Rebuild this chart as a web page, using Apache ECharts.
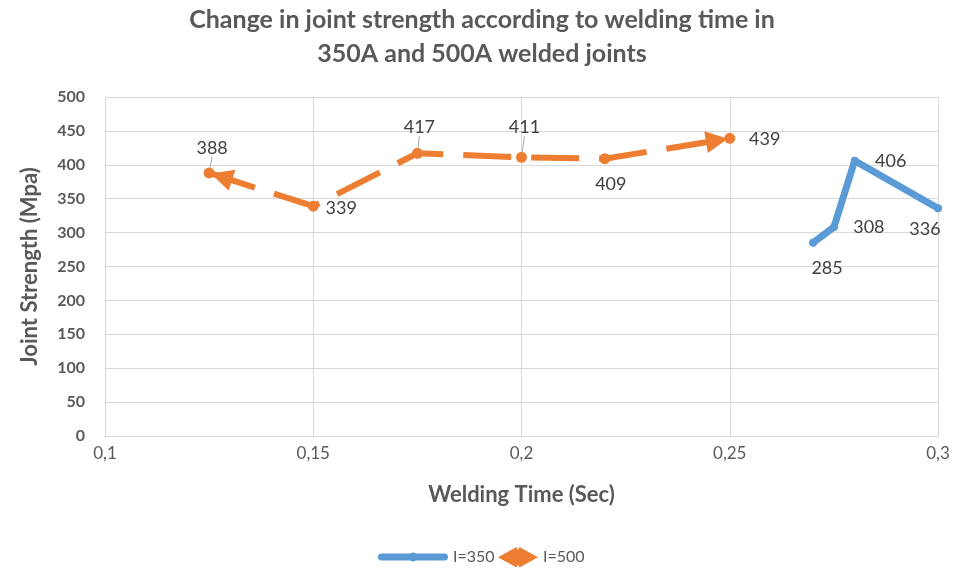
<!DOCTYPE html>
<html>
<head>
<meta charset="utf-8">
<script src="https://cdn.jsdelivr.net/npm/echarts@6/dist/echarts.min.js"></script>
<style>
  html, body { margin: 0; padding: 0; background: #fff; }
  #chart { width: 964px; height: 569px; }
</style>
</head>
<body>
<div id="chart"></div>
<script>
// Welding time (s) and joint strength (MPa) for the two currents
const time350 = [0.27, 0.275, 0.28, 0.30];
const strength350 = [285, 308, 406, 336];
const time500 = [0.125, 0.15, 0.175, 0.20, 0.22, 0.25];
const strength500 = [388, 339, 417, 411, 409, 439];

// Label placement per point (offsets in px relative to the point)
const labelOffset350 = [[14, 25], [35, 0], [36, 0], [-13, 21]];
const labelOffset500 = [[3, -25], [28, 2], [2, -26], [3, -30], [6, 25], [35, 1]];
// Points whose label gets a thin guide line
const guided500 = [true, false, true, true, false, false];

const titleText = 'Change in joint strength according to welding time in\n350A and 500A welded joints';
const FONT = 'Lato, "Open Sans", sans-serif';
const BLUE = '#5B9BD5';
const ORANGE = '#ED7D31';
const TEXT = '#404040';
const AXIS_TEXT = '#595959';

// Legend glyphs: thick rounded bar with a small dot, and a notched double arrow head
const ICON_350 = 'path://M3.5,1 L66.5,1 A3.5,3.5 0 0 1 66.5,8 L3.5,8 A3.5,3.5 0 0 1 3.5,1 Z ' +
  'M30.5,4.5 A4.5,4.5 0 1 1 39.5,4.5 A4.5,4.5 0 1 1 30.5,4.5 Z';
const ICON_500 = 'path://M0,11 L18.5,0.8 L20,4 L21.5,0.8 L40,11 L21.5,21.2 L20,18 L18.5,21.2 Z';

function pts(xs, ys, offs, guides) {
  return xs.map((x, i) => {
    const item = { value: [x, ys[i]], label: { offset: offs[i] } };
    if (guides && guides[i]) {
      item.labelLine = { show: true, lineStyle: { color: '#a6a6a6', width: 1 } };
    }
    return item;
  });
}

const chart = echarts.init(document.getElementById('chart'), null, { renderer: 'canvas' });

const n = time500.length;
const legendText = { fontFamily: FONT, fontSize: 16, color: AXIS_TEXT };

chart.setOption({
  animation: false,
  backgroundColor: '#ffffff',
  title: {
    text: titleText,
    left: 'center',
    top: 3,
    padding: 0,
    textStyle: {
      fontFamily: FONT, fontSize: 25, fontWeight: 'bold', color: AXIS_TEXT, lineHeight: 34
    }
  },
  grid: { left: 105, right: 26, top: 97, bottom: 133 },
  legend: [
    {
      left: 378, top: 549, padding: 0,
      itemWidth: 70, itemHeight: 9, itemGap: 0,
      textStyle: legendText,
      data: [{ name: 'I=350', icon: ICON_350, itemStyle: { color: BLUE } }]
    },
    {
      left: 498, top: 547, padding: 0,
      itemWidth: 40, itemHeight: 22, itemGap: 0,
      textStyle: legendText,
      data: [{ name: 'I=500', icon: ICON_500, itemStyle: { color: ORANGE } }]
    }
  ],
  xAxis: {
    type: 'value',
    min: 0.1,
    max: 0.3,
    interval: 0.05,
    name: 'Welding Time (Sec)',
    nameLocation: 'middle',
    nameGap: 48,
    nameTextStyle: { fontFamily: FONT, fontSize: 22, fontWeight: 'bold', color: AXIS_TEXT },
    axisLine: { show: true, lineStyle: { color: '#d9d9d9' } },
    axisTick: { show: false },
    axisLabel: {
      fontFamily: FONT, fontSize: 17, color: AXIS_TEXT, margin: 9,
      formatter: v => String(+v.toFixed(2)).replace('.', ',')
    },
    splitLine: { show: true, lineStyle: { color: '#d9d9d9' } }
  },
  yAxis: {
    type: 'value',
    min: 0,
    max: 500,
    interval: 50,
    name: 'Joint Strength (Mpa)',
    nameLocation: 'middle',
    nameGap: 64,
    nameTextStyle: { fontFamily: FONT, fontSize: 22, fontWeight: 'bold', color: AXIS_TEXT },
    axisLine: { show: false },
    axisTick: { show: false },
    axisLabel: { fontFamily: FONT, fontSize: 16, fontWeight: 'bold', color: AXIS_TEXT, margin: 20 },
    splitLine: { show: true, lineStyle: { color: '#d9d9d9' } }
  },
  series: [
    {
      name: 'I=350',
      type: 'line',
      data: pts(time350, strength350, labelOffset350),
      color: BLUE,
      symbol: 'circle',
      symbolSize: 8,
      lineStyle: { width: 7, color: BLUE, cap: 'round', join: 'round' },
      itemStyle: { color: BLUE },
      label: {
        show: true, position: 'inside',
        fontFamily: FONT, fontSize: 18, color: TEXT,
        formatter: p => p.value[1]
      },
      emphasis: { disabled: true },
      z: 3
    },
    {
      name: 'I=500',
      type: 'line',
      data: pts(time500, strength500, labelOffset500, guided500),
      color: ORANGE,
      symbol: 'circle',
      symbolSize: 11,
      lineStyle: { width: 6, color: ORANGE, type: [48, 20] },
      itemStyle: { color: ORANGE },
      label: {
        show: true, position: 'inside',
        fontFamily: FONT, fontSize: 18, color: TEXT,
        formatter: p => p.value[1]
      },
      emphasis: { disabled: true },
      // arrow heads at both ends of the I=500 curve
      markLine: {
        silent: true,
        symbol: ['none', 'triangle'],
        symbolSize: [22, 22],
        symbolOffset: [[0, 0], [0, 13]],
        label: { show: false },
        lineStyle: { color: ORANGE, width: 0, type: 'solid' },
        emphasis: { disabled: true },
        data: [
          [
            { coord: [time500[1], strength500[1]] },
            { coord: [time500[0], strength500[0]] }
          ],
          [
            { coord: [time500[n - 2], strength500[n - 2]] },
            { coord: [time500[n - 1], strength500[n - 1]] }
          ]
        ]
      },
      z: 3
    }
  ]
});
</script>
</body>
</html>
